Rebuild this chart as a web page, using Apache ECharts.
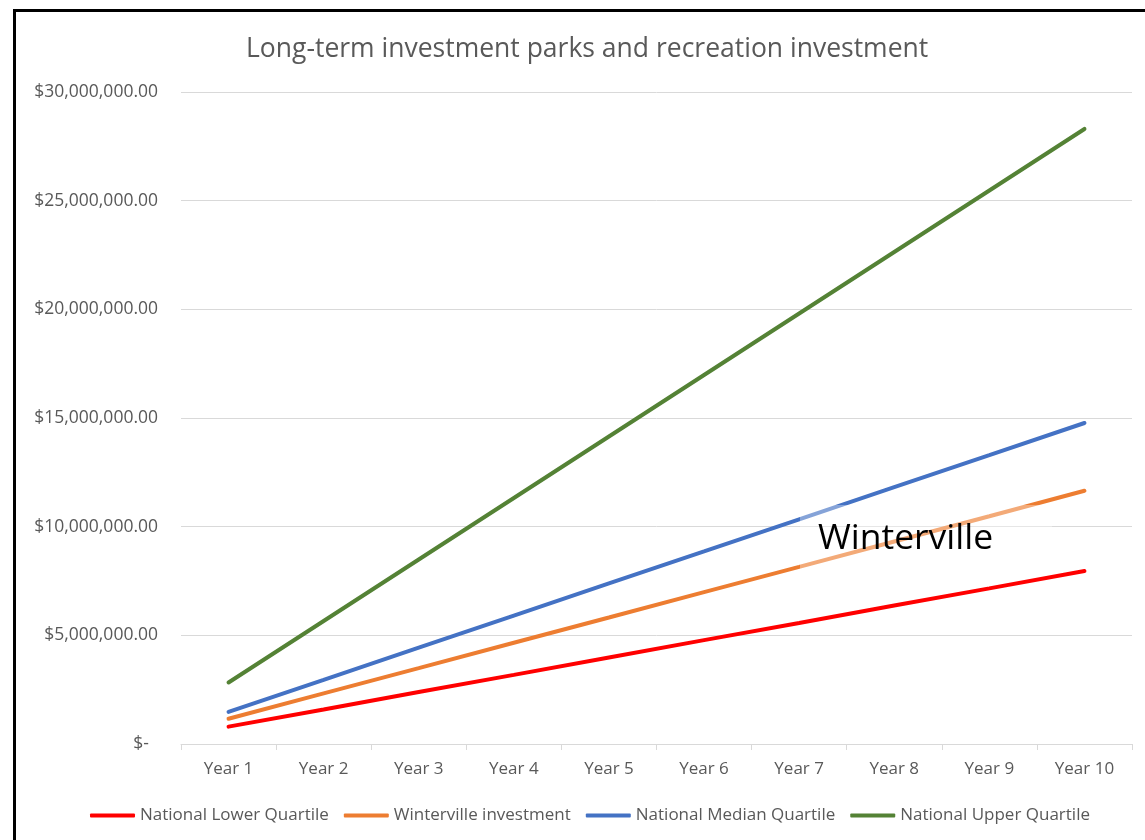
<!DOCTYPE html>
<html>
<head>
<meta charset="utf-8">
<title>Long-term investment parks and recreation investment</title>
<script src="https://cdn.jsdelivr.net/npm/echarts@6/dist/echarts.min.js"></script>
<style>
    html, body { margin: 0; padding: 0; background: #fff; }
    #chart { width: 1145px; height: 840px; position: relative; }
    .frame {
        position: absolute; left: 13px; top: 9px; right: -10px; bottom: -10px;
        border-left: 3px solid #000; border-top: 3px solid #000;
        pointer-events: none; z-index: 10;
    }
</style>
</head>
<body>
<div id="chart"></div>
<div class="frame"></div>
<script>
    // values (dollars)
    const years = ['Year 1', 'Year 2', 'Year 3', 'Year 4', 'Year 5', 'Year 6', 'Year 7', 'Year 8', 'Year 9', 'Year 10']
    const lowerQuartile = [800000, 1590000, 2390000, 3180000, 3980000, 4780000, 5570000, 6370000, 7160000, 7960000]
    const wintervilleInvestment = [1160000, 2330000, 3490000, 4660000, 5820000, 6990000, 8150000, 9320000, 10480000, 11650000]
    const medianQuartile = [1480000, 2950000, 4430000, 5910000, 7390000, 8860000, 10340000, 11820000, 13290000, 14770000]
    const upperQuartile = [2830000, 5660000, 8490000, 11320000, 14150000, 16980000, 19810000, 22640000, 25470000, 28300000]

    const font = '"Open Sans", sans-serif'
    const textColor = '#595959'

    const chart = echarts.init(document.getElementById('chart'))

    const makeSeries = (name, data, color) => ({
        name: name,
        type: 'line',
        data: data,
        symbol: 'none',
        lineStyle: { width: 4, color: color, cap: 'round' },
        itemStyle: { color: color },
        z: 3
    })

    chart.setOption({
        animation: false,
        title: {
            text: 'Long-term investment parks and recreation investment',
            left: 241,
            top: 31,
            textStyle: { fontFamily: font, fontSize: 26.5, fontWeight: 'normal', color: textColor }
        },
        legend: {
            bottom: 11,
            left: 85,
            itemWidth: 45,
            itemHeight: 4,
            itemGap: 15,
            icon: 'roundRect',
            textStyle: { fontFamily: font, fontSize: 17, color: textColor }
        },
        grid: { left: 181, right: 13, top: 92, bottom: 96 },
        xAxis: {
            type: 'category',
            data: years,
            boundaryGap: true,
            axisLine: { lineStyle: { color: '#d9d9d9', width: 1 } },
            axisTick: { show: true, length: 6, lineStyle: { color: '#d9d9d9' } },
            axisLabel: { fontFamily: font, fontSize: 17, color: textColor, margin: 17 }
        },
        yAxis: {
            type: 'value',
            min: 0,
            max: 30000000,
            interval: 5000000,
            axisLine: { show: false },
            axisTick: { show: false },
            splitLine: { lineStyle: { color: '#d9d9d9', width: 1 } },
            axisLabel: {
                fontFamily: font, fontSize: 17.5, color: textColor, margin: 23,
                formatter: v => v === 0 ? '$-  ' : '$' + v.toLocaleString('en-US', { minimumFractionDigits: 2 })
            }
        },
        graphic: [
            {
                type: 'rect',
                z: 100,
                shape: { x: 800, y: 505, width: 252, height: 65 },
                style: { fill: 'rgba(255,255,255,0.35)' }
            },
            {
                type: 'text',
                z: 101,
                left: 818,
                top: 521,
                style: { text: 'Winterville', fontFamily: font, fontSize: 35.5, fill: '#000' }
            }
        ],
        series: [
            makeSeries('National Lower Quartile', lowerQuartile, '#ff0000'),
            makeSeries('Winterville investment', wintervilleInvestment, '#ed7d31'),
            makeSeries('National Median Quartile', medianQuartile, '#4472c4'),
            makeSeries('National Upper Quartile', upperQuartile, '#548235')
        ]
    })
</script>
</body>
</html>
